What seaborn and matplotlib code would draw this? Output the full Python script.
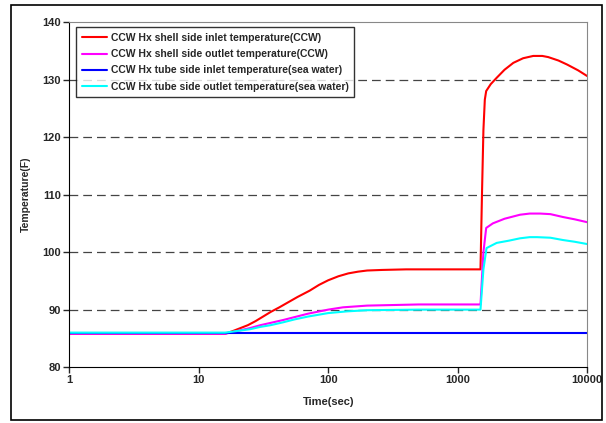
import matplotlib
matplotlib.use("Agg")
import matplotlib.pyplot as plt
import seaborn as sns
import pandas as pd
import numpy as np
from matplotlib.patches import Rectangle

# time points (sec) and temperatures (F)
shell_in_t = [1, 5, 16, 18, 20, 24, 27.5, 32, 36, 42, 47.6, 58, 72, 85, 100, 120, 143, 170, 200,
              260, 400, 1000, 1500, 1540, 1580, 1620, 1660, 1800, 2000, 2300, 2690, 3200, 3830,
              4500, 5000, 6000, 7000, 8500, 10000]
shell_in_T = [85.8, 85.8, 85.8, 86.2, 86.6, 87.3, 88.0, 88.9, 89.6, 90.4, 91.1, 92.2, 93.3, 94.3,
              95.1, 95.8, 96.3, 96.6, 96.8, 96.9, 97.0, 97.0, 97.0, 110.0, 121.2, 126.5, 128.0,
              129.2, 130.3, 131.7, 132.9, 133.7, 134.1, 134.1, 133.9, 133.3, 132.6, 131.6, 130.6]

shell_out_t = [1, 5, 16, 20, 25, 30, 36, 45, 55, 70, 100, 130, 200, 500, 1500, 1580, 1660, 1870,
               2300, 3030, 3600, 4340, 5200, 6500, 8000, 10000]
shell_out_T = [85.8, 85.8, 85.8, 86.3, 86.8, 87.3, 87.7, 88.2, 88.7, 89.3, 90.0, 90.4, 90.7, 90.9,
               90.9, 100.0, 104.2, 105.0, 105.8, 106.5, 106.7, 106.7, 106.6, 106.1, 105.7, 105.2]

tube_in_t = [1, 10, 100, 1000, 10000]
tube_in_T = [86.0, 86.0, 86.0, 86.0, 86.0]

tube_out_t = [1, 5, 16, 20, 25, 30, 36, 45, 55, 70, 100, 140, 200, 500, 1500, 1580, 1670, 2000,
              2500, 3030, 3600, 4100, 5200, 6500, 8000, 10000]
tube_out_T = [86.0, 86.0, 86.0, 86.3, 86.6, 87.0, 87.3, 87.8, 88.3, 88.8, 89.4, 89.7, 89.9, 90.0,
              90.0, 97.0, 100.7, 101.6, 102.0, 102.4, 102.6, 102.6, 102.5, 102.1, 101.8, 101.4]

labels = ["CCW Hx shell side inlet temperature(CCW)",
          "CCW Hx shell side outlet temperature(CCW)",
          "CCW Hx tube side inlet temperature(sea water)",
          "CCW Hx tube side outlet temperature(sea water)"]
colors = ["#ff0000", "#ff00ff", "#0000ff", "#00ffff"]
series = [(shell_in_t, shell_in_T), (shell_out_t, shell_out_T),
          (tube_in_t, tube_in_T), (tube_out_t, tube_out_T)]

sns.set_style("white")
plt.rcParams['font.family'] = ['Liberation Sans', 'DejaVu Sans']

fig = plt.figure(figsize=(6.06, 4.23), dpi=100)
ax = fig.add_axes([0.114, 0.132, 0.855, 0.816])

# outer chart frame
fig.patches.append(Rectangle((0.018, 0.007), 0.976, 0.982, transform=fig.transFigure,
                             fill=False, edgecolor='black', linewidth=1.2))

for (t, T), lab, col in zip(series, labels, colors):
    df = pd.DataFrame({'t': t, 'T': T})
    sns.lineplot(data=df, x='t', y='T', color=col, label=lab, linewidth=1.5, ax=ax)

ax.set_xscale('log')
ax.set_xlim(1, 10000)
ax.set_ylim(80, 140)
ax.set_yticks(np.arange(80, 141, 10))
ax.set_xticks([1, 10, 100, 1000, 10000])
ax.set_xticklabels(['1', '10', '100', '1000', '10000'])
ax.minorticks_off()
for yv in range(90, 140, 10):
    ax.axhline(yv, color='#444444', linestyle=(0, (7, 4)), linewidth=0.9, zorder=0)

ax.tick_params(axis='both', which='major', length=4, width=1, direction='out',
               labelsize=8, pad=2, bottom=True, left=True)
for lbl in ax.get_xticklabels() + ax.get_yticklabels():
    lbl.set_fontweight('bold')

ax.spines['left'].set_color('black')
ax.spines['bottom'].set_color('black')
ax.spines['top'].set_color('#888888')
ax.spines['right'].set_color('#888888')

ax.set_xlabel('Time(sec)', fontsize=8, fontweight='bold', labelpad=8)
ax.set_ylabel('Temperature(F)', fontsize=7.5, fontweight='bold', labelpad=8)

leg = ax.legend(loc='upper left', bbox_to_anchor=(0.003, 1.0), frameon=True, fancybox=False,
                edgecolor='black', handlelength=2.4, handletextpad=0.4, labelspacing=0.6,
                borderpad=0.55, prop={'weight': 'bold', 'size': 7.5})
leg.get_frame().set_linewidth(1.0)

fig.savefig('out.png', dpi=100)
